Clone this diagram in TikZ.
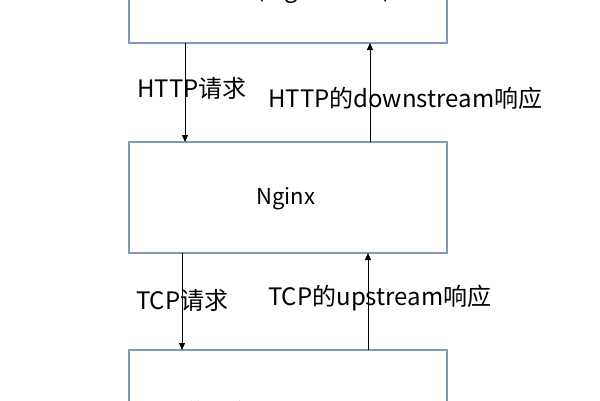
\documentclass[tikz,border=0pt]{standalone}
\usepackage{fontspec}
\setmainfont{Noto Sans CJK SC}
\usetikzlibrary{arrows.meta}
\begin{document}
\begin{tikzpicture}[x=1pt,y=-1pt,
  box/.style={draw=boxblue,line width=1.4pt,fill=white},
  flow/.style={draw=black,line width=0.8pt,-{Triangle[length=7pt,width=6pt]}},
  lbl/.style={font=\fontsize{24}{28}\selectfont,inner sep=0pt,anchor=west}]
\definecolor{boxblue}{HTML}{8299B5}
\useasboundingbox (0,0) rectangle (600,400);
\clip (0,0) rectangle (600,400);
\fill[white] (0,0) rectangle (600,400);
% boxes
\draw[box] (129,-60) rectangle (447,43);
\node[font=\fontsize{24}{28}\selectfont,anchor=base] (clienttxt) at (288,-3) {客户端(e.g. 浏览器)};
\draw[box] (129,142) rectangle (447,253);
\node[font=\fontsize{22}{26}\selectfont] (nginx) at (286,199) {Nginx};
\draw[box] (129,350) rectangle (447,460);
\node[font=\fontsize{24}{28}\selectfont,anchor=base] (servertxt) at (292,421) {上游服务器(e.g. Tomcat)};
% connector endpoints
\coordinate (a1) at (185,43);  \coordinate (a2) at (185,142);
\coordinate (b1) at (370,142); \coordinate (b2) at (370,43);
\coordinate (c1) at (182,253); \coordinate (c2) at (182,350);
\coordinate (d1) at (368,350); \coordinate (d2) at (368,253);
\draw[flow] (a1) -- (a2);
\draw[flow] (b1) -- (b2);
\draw[flow] (c1) -- (c2);
\draw[flow] (d1) -- (d2);
% labels
\node[lbl] (l1) at (137,88) {HTTP请求};
\node[lbl] (l2) at (268,98) {HTTP的downstream响应};
\node[lbl] (l3) at (136,300) {TCP请求};
\node[lbl] (l4) at (268,298) {TCP的upstream响应};
\end{tikzpicture}
\end{document}
